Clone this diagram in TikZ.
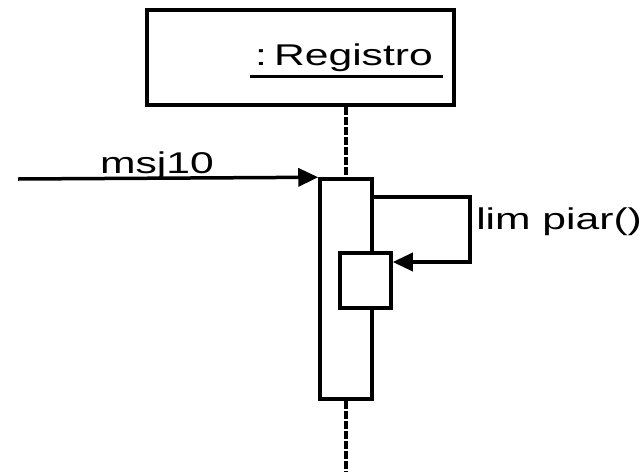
\documentclass[tikz,border=0pt]{standalone}
\usepackage{fontspec}
\setmainfont{Liberation Sans}
\usetikzlibrary{arrows.meta}
\begin{document}
\begin{tikzpicture}[x=1pt,y=-1pt,
  lbl/.style={font=\fontsize{30}{34}\selectfont, inner sep=0pt, xscale=1.42},
  ln/.style={line width=3.5pt, draw=black},
  life/.style={line width=3.5pt, draw=black, dash pattern=on 8pt off 2pt},
  tip/.style={-{Triangle[length=20pt,width=18pt]}}]
\useasboundingbox (0,0) rectangle (643,472);
\node[draw=black, line width=4.5pt, minimum width=307pt, minimum height=95pt, inner sep=0pt] (obj) at (300.5,57.5) {};
\node[lbl, anchor=base] (objl) at (344,65) {:\,Registro};
\coordinate (u1) at (250,76);
\coordinate (u2) at (443,76);
\draw[line width=3pt] (u1) -- (u2);
\node[ln, fill=white, minimum width=52pt, minimum height=220pt, inner sep=0pt] (act) at (346,289) {};
\draw[life] (obj.south -| act.north) -- (act.north);
\coordinate (bot) at (346,472);
\draw[life] (act.south) -- (bot);
\coordinate (m0) at (18,179);
\draw[ln, tip] (m0) -- (act.north west);
\node[lbl, anchor=base] (ml) at (157,173) {msj10};
\node[ln, fill=white, minimum width=51pt, minimum height=55pt, inner sep=0pt] (act2) at (365.5,280.5) {};
\coordinate (s1) at (470,197);
\coordinate (s2) at (470,262);
\draw[ln, tip] (act.east |- s1) -- (s1) -- (s2) -- (act2.east |- s2);
\node[lbl, anchor=west] (sl) at (476,222) {lim piar()};
\end{tikzpicture}
\end{document}
